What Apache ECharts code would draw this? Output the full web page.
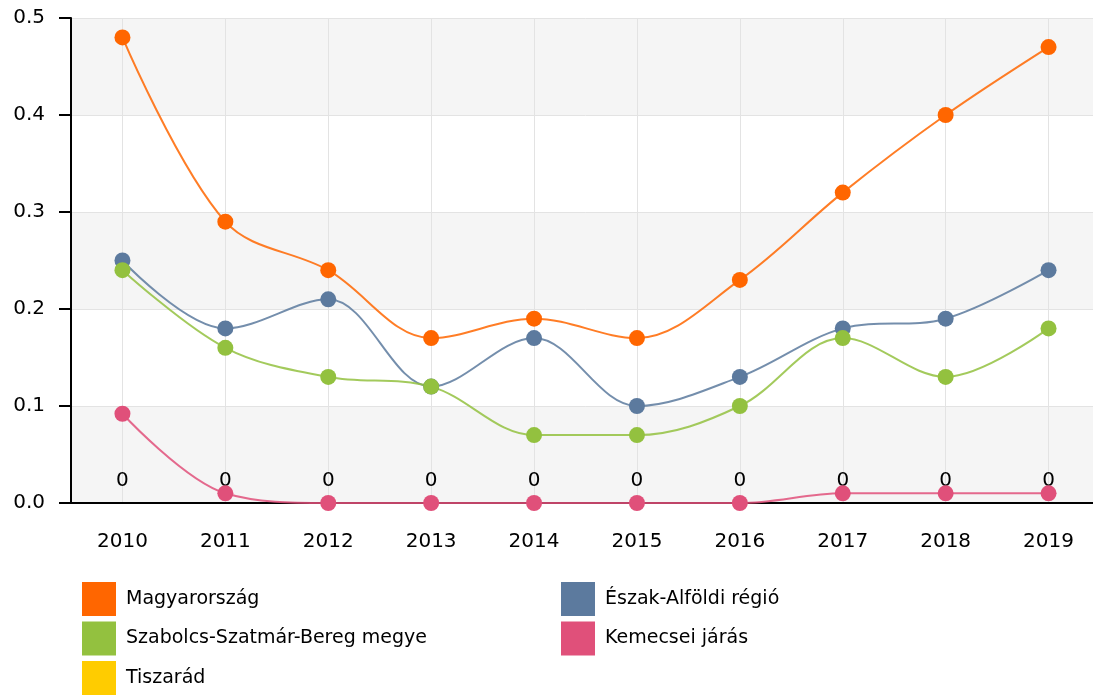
<!DOCTYPE html>
<html>
<head>
<meta charset="utf-8">
<script src="https://cdn.jsdelivr.net/npm/echarts@6/dist/echarts.min.js"></script>
<style>
  html, body { margin: 0; padding: 0; background: #fff; overflow: hidden; }
  #chart { width: 1100px; height: 695px; }
</style>
</head>
<body>
<div id="chart"></div>
<script>
  var years = ['2010', '2011', '2012', '2013', '2014', '2015', '2016', '2017', '2018', '2019'];
  var magyarorszag = [0.48, 0.29, 0.24, 0.17, 0.19, 0.17, 0.23, 0.32, 0.40, 0.47];
  var eszakAlfold = [0.25, 0.18, 0.21, 0.12, 0.17, 0.10, 0.13, 0.18, 0.19, 0.24];
  var szabolcs = [0.24, 0.16, 0.13, 0.12, 0.07, 0.07, 0.10, 0.17, 0.13, 0.18];
  var kemecsei = [0.092, 0.01, 0, 0, 0, 0, 0, 0.01, 0.01, 0.01];
  var tiszarad = [0, 0, 0, 0, 0, 0, 0, 0, 0, 0];

  var chart = echarts.init(document.getElementById('chart'));

  var font = 'DejaVu Sans, Verdana, sans-serif';

  function lineSeries(name, data, color) {
    return {
      name: name,
      type: 'line',
      data: data,
      smooth: 0.35,
      symbol: 'circle',
      symbolSize: 16,
      showAllSymbol: true,
      color: color,
      lineStyle: { width: 2, color: color, opacity: 0.85 },
      itemStyle: { color: color },
      z: 3
    };
  }

  function legendBox(left, names) {
    return {
      left: left,
      top: 582,
      height: 130,
      padding: 0,
      orient: 'vertical',
      icon: 'rect',
      itemWidth: 34,
      itemHeight: 34,
      itemGap: 5.5,
      textStyle: { fontSize: 19, color: '#000', fontFamily: font, padding: [0, 0, 0, 5] },
      data: names
    };
  }

  var option = {
    animation: false,
    textStyle: { fontFamily: font },
    grid: { left: 71, top: 18, bottom: 192, right: 0 },
    legend: [
      legendBox(82, ['Magyarország', 'Szabolcs-Szatmár-Bereg megye', 'Tiszarád']),
      legendBox(561, ['Észak-Alföldi régió', 'Kemecsei járás'])
    ],
    xAxis: {
      type: 'category',
      data: years,
      boundaryGap: true,
      axisLine: { lineStyle: { color: '#000', width: 2 } },
      axisTick: { alignWithLabel: true, length: 8, lineStyle: { color: '#000', width: 2 } },
      axisLabel: { color: '#000', fontSize: 20, margin: 29, fontFamily: font },
      splitLine: { show: true, alignWithLabel: true, lineStyle: { color: '#e3e3e3', width: 1 } }
    },
    yAxis: {
      type: 'value',
      min: 0,
      max: 0.5,
      interval: 0.1,
      axisLine: { show: true, lineStyle: { color: '#000', width: 2 } },
      axisTick: { show: true, length: 12, lineStyle: { color: '#000', width: 2 } },
      axisLabel: {
        color: '#000', fontSize: 20, margin: 26, fontFamily: font,
        formatter: function (v) { return v.toFixed(1); }
      },
      splitLine: { show: true, lineStyle: { color: '#e3e3e3', width: 1 } },
      splitArea: { show: true, areaStyle: { color: ['#f5f5f5', '#ffffff'] } }
    },
    series: [
      {
        name: 'Tiszarád',
        type: 'line',
        data: tiszarad,
        smooth: 0.35,
        symbol: 'circle',
        symbolSize: 0.1,
        color: '#ffcc00',
        itemStyle: { color: '#ffcc00' },
        lineStyle: { width: 2, color: '#ffcc00', opacity: 0 },
        label: { show: true, position: 'top', distance: 12, color: '#000', fontSize: 20, fontFamily: font },
        z: 1
      },
      lineSeries('Magyarország', magyarorszag, '#ff6600'),
      lineSeries('Észak-Alföldi régió', eszakAlfold, '#5c7a9e'),
      lineSeries('Szabolcs-Szatmár-Bereg megye', szabolcs, '#93c13f'),
      lineSeries('Kemecsei járás', kemecsei, '#e0507a')
    ]
  };

  chart.setOption(option);
</script>
</body>
</html>
